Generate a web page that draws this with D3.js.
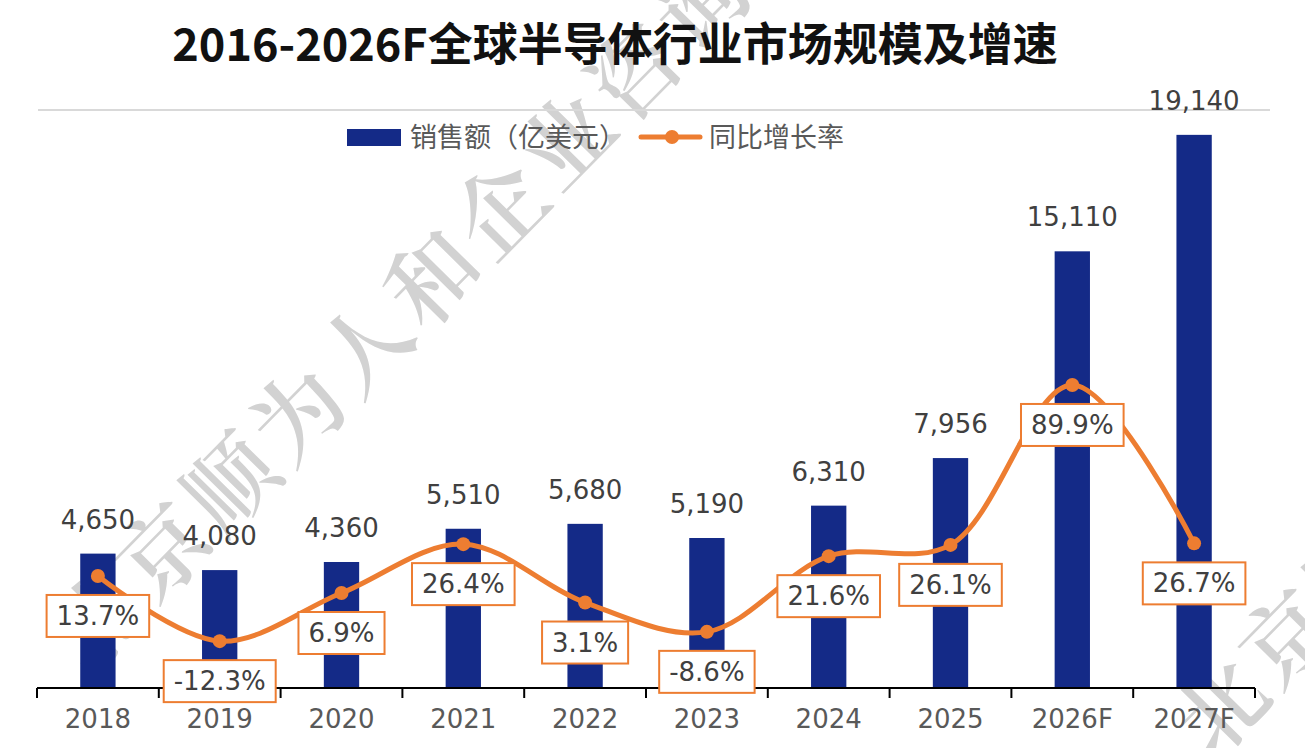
<!DOCTYPE html>
<html>
<head>
    <meta charset="utf-8">
    <title>2016-2026F全球半导体行业市场规模及增速</title>
    <script src="https://d3js.org/d3.v7.min.js"></script>
    <style>
        body { margin: 0; background: #fff; }
        text { font-family: "Noto Sans CJK SC", "Noto Sans", sans-serif; }
        .num { font-family: "DejaVu Sans", sans-serif; }
    </style>
</head>
<body>
    <div id="chart"></div>

    <script>
        // data
        var categories = ["2018", "2019", "2020", "2021", "2022", "2023", "2024", "2025", "2026F", "2027F"];
        var sales = [4650, 4080, 4360, 5510, 5680, 5190, 6310, 7956, 15110, 19140];
        var growth = [13.7, -12.3, 6.9, 26.4, 3.1, -8.6, 21.6, 26.1, 89.9, 26.7];
        var legendNames = ["销售额（亿美元）", "同比增长率"];
        var titleText = "2016-2026F全球半导体行业市场规模及增速";
        var watermark = "北京顺为人和企业咨询有限公司";

        var W = 1305, H = 748;
        var plotLeft = 37, plotRight = 1255, plotTop = 110, plotBottom = 688;
        var barColor = "#142a87", lineColor = "#ed7d31";

        var svg = d3.select("#chart")
            .append("svg")
            .attr("width", W)
            .attr("height", H);

        var data = categories.map(function (c, i) {
            return { cat: c, sales: sales[i], growth: growth[i] };
        });

        // watermark behind everything
        var wm = svg.append("g").attr("fill", "#d2d2d2");
        [[88, 675], [1212, 762]].forEach(function (p) {
            wm.append("text")
                .attr("transform", "translate(" + p[0] + "," + p[1] + ") rotate(-45.5)")
                .attr("font-size", 90)
                .attr("font-weight", 600)
                .attr("letter-spacing", 6)
                .style("font-family", "'Noto Serif CJK SC', 'Noto Sans CJK SC', serif")
                .text(watermark);
        });

        // title
        svg.append("text")
            .attr("x", 615)
            .attr("y", 61)
            .attr("text-anchor", "middle")
            .attr("font-size", 45)
            .attr("font-weight", 700)
            .attr("fill", "#111")
            .text(titleText);

        // top gridline
        svg.append("line")
            .attr("x1", 38).attr("x2", 1270)
            .attr("y1", plotTop).attr("y2", plotTop)
            .attr("stroke", "#d9d9d9")
            .attr("stroke-width", 2);

        // scales
        var x = d3.scaleBand()
            .domain(categories)
            .range([plotLeft, plotRight])
            .paddingInner(0.71)
            .paddingOuter(0.355);

        var y = d3.scaleLinear()
            .domain([0, 20000])
            .range([plotBottom, plotTop]);

        var y2 = d3.scaleLinear()
            .domain([-31, 199.6])
            .range([plotBottom, plotTop]);

        function cx(d) { return x(d.cat) + x.bandwidth() / 2; }

        // bars
        svg.selectAll("rect.bar")
            .data(data)
            .enter()
            .append("rect")
            .attr("class", "bar")
            .attr("x", function (d) { return x(d.cat); })
            .attr("y", function (d) { return y(d.sales); })
            .attr("width", x.bandwidth())
            .attr("height", function (d) { return plotBottom - y(d.sales); })
            .attr("fill", barColor);

        // bar value labels
        svg.selectAll("text.val")
            .data(data)
            .enter()
            .append("text")
            .attr("class", "val num")
            .attr("x", cx)
            .attr("y", function (d) { return y(d.sales) - 25; })
            .attr("text-anchor", "middle")
            .attr("font-size", 26)
            .attr("fill", "#404040")
            .text(function (d) { return d3.format(",")(d.sales); });

        // x axis
        var axis = svg.append("g")
            .attr("transform", "translate(0," + plotBottom + ")")
            .call(d3.axisBottom(x).tickSize(0).tickPadding(22));
        axis.select(".domain").remove();
        axis.selectAll("text")
            .attr("font-size", 26)
            .attr("fill", "#595959")
            .style("font-family", "'DejaVu Sans', sans-serif");

        svg.append("line")
            .attr("x1", plotLeft).attr("x2", plotRight)
            .attr("y1", plotBottom).attr("y2", plotBottom)
            .attr("stroke", "#000")
            .attr("stroke-width", 2);

        var bounds = categories.map(function (c) { return x(c) - x.step() * 0.355; });
        bounds.push(plotRight);
        svg.selectAll("line.tick")
            .data(bounds)
            .enter()
            .append("line")
            .attr("class", "tick")
            .attr("x1", function (d) { return d; })
            .attr("x2", function (d) { return d; })
            .attr("y1", plotBottom)
            .attr("y2", plotBottom + 10)
            .attr("stroke", "#000")
            .attr("stroke-width", 2);

        // growth line
        svg.append("path")
            .datum(data)
            .attr("fill", "none")
            .attr("stroke", lineColor)
            .attr("stroke-width", 5)
            .attr("stroke-linecap", "round")
            .attr("d", d3.line()
                .x(cx)
                .y(function (d) { return y2(d.growth); })
                .curve(d3.curveCatmullRom.alpha(0.5)));

        svg.selectAll("circle.pt")
            .data(data)
            .enter()
            .append("circle")
            .attr("class", "pt")
            .attr("cx", cx)
            .attr("cy", function (d) { return y2(d.growth); })
            .attr("r", 7)
            .attr("fill", lineColor);

        // growth labels in boxes
        var lab = svg.selectAll("g.glab")
            .data(data)
            .enter()
            .append("g")
            .attr("class", "glab")
            .attr("transform", function (d) {
                return "translate(" + cx(d) + "," + (y2(d.growth) + 40) + ")";
            });
        lab.append("rect")
            .attr("fill", "#fff")
            .attr("stroke", lineColor)
            .attr("stroke-width", 2);
        lab.append("text")
            .attr("class", "num")
            .attr("text-anchor", "middle")
            .attr("y", 9)
            .attr("font-size", 26)
            .attr("fill", "#404040")
            .text(function (d) { return d.growth.toFixed(1) + "%"; });
        lab.each(function () {
            var g = d3.select(this);
            var w = g.select("text").node().getComputedTextLength() + 20;
            g.select("rect")
                .attr("x", -w / 2)
                .attr("y", -21)
                .attr("width", w)
                .attr("height", 42);
        });

        // legend
        var lg = svg.append("g");
        lg.append("rect")
            .attr("x", 347).attr("y", 129)
            .attr("width", 54).attr("height", 17)
            .attr("fill", barColor);
        lg.append("text")
            .attr("x", 410).attr("y", 147)
            .attr("font-size", 27)
            .attr("fill", "#595959")
            .text(legendNames[0]);
        lg.append("line")
            .attr("x1", 641).attr("x2", 700)
            .attr("y1", 137).attr("y2", 137)
            .attr("stroke", lineColor)
            .attr("stroke-width", 5)
            .attr("stroke-linecap", "round");
        lg.append("circle")
            .attr("cx", 672).attr("cy", 137)
            .attr("r", 7)
            .attr("fill", lineColor);
        lg.append("text")
            .attr("x", 709).attr("y", 147)
            .attr("font-size", 27)
            .attr("fill", "#595959")
            .text(legendNames[1]);
    </script>
</body>
</html>
